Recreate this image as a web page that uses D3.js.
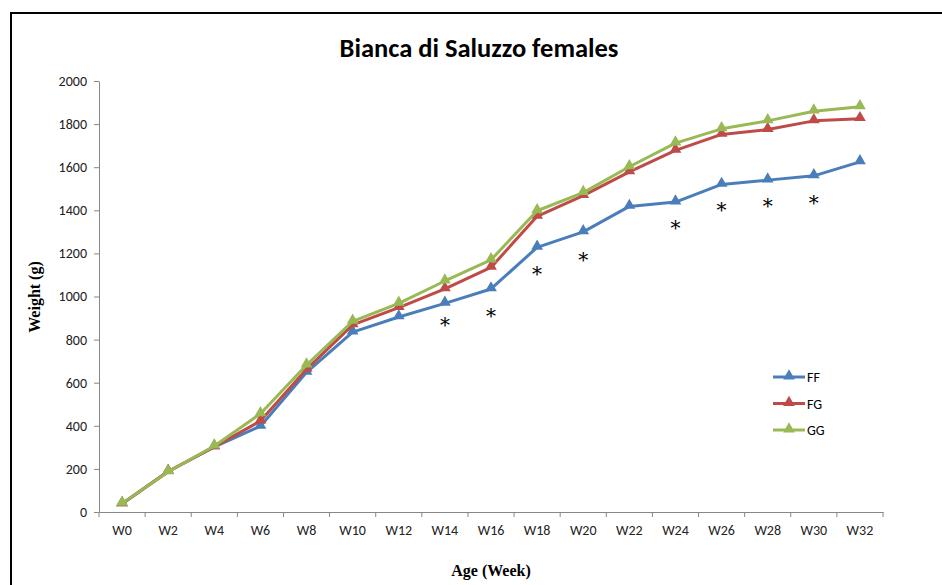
<!DOCTYPE html>
<html>
<head>
<meta charset="utf-8">
<script src="https://cdn.jsdelivr.net/npm/d3@7"></script>
<style>
  body { margin: 0; background: #fff; }
  svg { display: block; }
  .tick text { font-family: Carlito, "Open Sans", sans-serif; font-size: 14px; fill: #222; }
  .domain, .tick line { stroke: #878787; }
</style>
</head>
<body>
<div id="chart"></div>
<script>
'use strict';

// categories and series values (g)
var weeks = ['W0', 'W2', 'W4', 'W6', 'W8', 'W10', 'W12', 'W14', 'W16', 'W18', 'W20', 'W22', 'W24', 'W26', 'W28', 'W30', 'W32'];
var ffValues = [38, 188, 302, 398, 648, 835, 905, 968, 1035, 1228, 1300, 1418, 1438, 1520, 1540, 1560, 1625];
var fgValues = [38, 188, 302, 422, 662, 868, 948, 1035, 1135, 1372, 1468, 1578, 1678, 1752, 1775, 1815, 1825];
var ggValues = [40, 186, 306, 456, 682, 885, 968, 1072, 1170, 1398, 1482, 1602, 1712, 1778, 1815, 1860, 1880];
var yTicks = [0, 200, 400, 600, 800, 1000, 1200, 1400, 1600, 1800, 2000];

// significance marks: week and the level where the asterisk sits
var starWeeks = ['W14', 'W16', 'W18', 'W20', 'W24', 'W26', 'W28', 'W30'];
var starLevels = [880, 925, 1120, 1185, 1330, 1415, 1432, 1450];

var series = [
    {name: 'FF', values: ffValues, color: '#4a7ebb'},
    {name: 'FG', values: fgValues, color: '#be4b48'},
    {name: 'GG', values: ggValues, color: '#98b954'}
];

var width = 942,
    height = 585;

var svg = d3.select('#chart')
    .append('svg')
    .attr('width', width)
    .attr('height', height);

// chart frame (runs off the right and bottom edge)
svg.append('path')
    .attr('d', 'M11,' + (height + 5) + 'V13H' + (width + 5))
    .attr('fill', 'none')
    .attr('stroke', '#000')
    .attr('stroke-width', 2);

var x = d3.scaleBand()
    .domain(weeks)
    .range([99, 883]);

var y = d3.scaleLinear()
    .domain([0, 2000])
    .range([512, 81]);

// y axis
svg.append('g')
    .attr('transform', 'translate(99,0)')
    .call(d3.axisLeft(y).tickValues(yTicks).tickFormat(d3.format('d')).tickSize(5).tickPadding(7).tickSizeOuter(0));

// x axis, ticks on category boundaries
var xAxis = svg.append('g')
    .attr('transform', 'translate(0,512)')
    .call(d3.axisBottom(x).tickSize(0).tickPadding(13).tickSizeOuter(0));

xAxis.selectAll('.boundary')
    .data(d3.range(weeks.length + 1))
    .enter().append('line')
    .attr('class', 'boundary')
    .attr('x1', function(i) { return 99 + i * x.step(); })
    .attr('x2', function(i) { return 99 + i * x.step(); })
    .attr('y1', 0)
    .attr('y2', 5)
    .attr('stroke', '#878787');

var line = d3.line()
    .x(function(d, i) { return x(weeks[i]) + x.bandwidth() / 2; })
    .y(function(d) { return y(d); });

var triangle = d3.symbol().type(d3.symbolTriangle).size(60);

series.forEach(function(s) {
    var g = svg.append('g');
    g.append('path')
        .attr('d', line(s.values))
        .attr('fill', 'none')
        .attr('stroke', s.color)
        .attr('stroke-width', 3)
        .attr('stroke-linejoin', 'round');
    g.selectAll('path.mark')
        .data(s.values)
        .enter().append('path')
        .attr('class', 'mark')
        .attr('d', triangle)
        .attr('fill', s.color)
        .attr('transform', function(d, i) {
            return 'translate(' + (x(weeks[i]) + x.bandwidth() / 2) + ',' + (y(d) - 1) + ')';
        });
});

// asterisks
svg.selectAll('text.star')
    .data(starWeeks)
    .enter().append('text')
    .attr('class', 'star')
    .attr('x', function(d) { return x(d) + x.bandwidth() / 2; })
    .attr('y', function(d, i) { return y(starLevels[i]) + 10; })
    .attr('text-anchor', 'middle')
    .style('font-family', '"DejaVu Serif", serif')
    .style('font-size', '20px')
    .text('*');

// title
svg.append('text')
    .attr('x', 479)
    .attr('y', 57)
    .attr('text-anchor', 'middle')
    .style('font-family', 'Carlito, "Open Sans", sans-serif')
    .style('font-weight', 'bold')
    .style('font-size', '26.5px')
    .text('Bianca di Saluzzo females');

// axis titles
svg.append('text')
    .attr('transform', 'translate(40,297) rotate(-90)')
    .attr('text-anchor', 'middle')
    .style('font-family', '"Liberation Serif", serif')
    .style('font-weight', 'bold')
    .style('font-size', '16px')
    .text('Weight (g)');

svg.append('text')
    .attr('x', 491)
    .attr('y', 576)
    .attr('text-anchor', 'middle')
    .style('font-family', '"Liberation Serif", serif')
    .style('font-weight', 'bold')
    .style('font-size', '16px')
    .text('Age (Week)');

// legend
var legend = svg.selectAll('g.legend')
    .data(series)
    .enter().append('g')
    .attr('class', 'legend')
    .attr('transform', function(d, i) { return 'translate(773,' + (377 + i * 26.5) + ')'; });

legend.append('line')
    .attr('x1', 0).attr('x2', 32)
    .attr('stroke', function(d) { return d.color; })
    .attr('stroke-width', 3);
legend.append('path')
    .attr('d', triangle)
    .attr('transform', 'translate(16,-1)')
    .attr('fill', function(d) { return d.color; });
legend.append('text')
    .attr('x', 34)
    .attr('y', 5)
    .style('font-family', 'Carlito, "Open Sans", sans-serif')
    .style('font-size', '14px')
    .text(function(d) { return d.name; });
</script>
</body>
</html>
